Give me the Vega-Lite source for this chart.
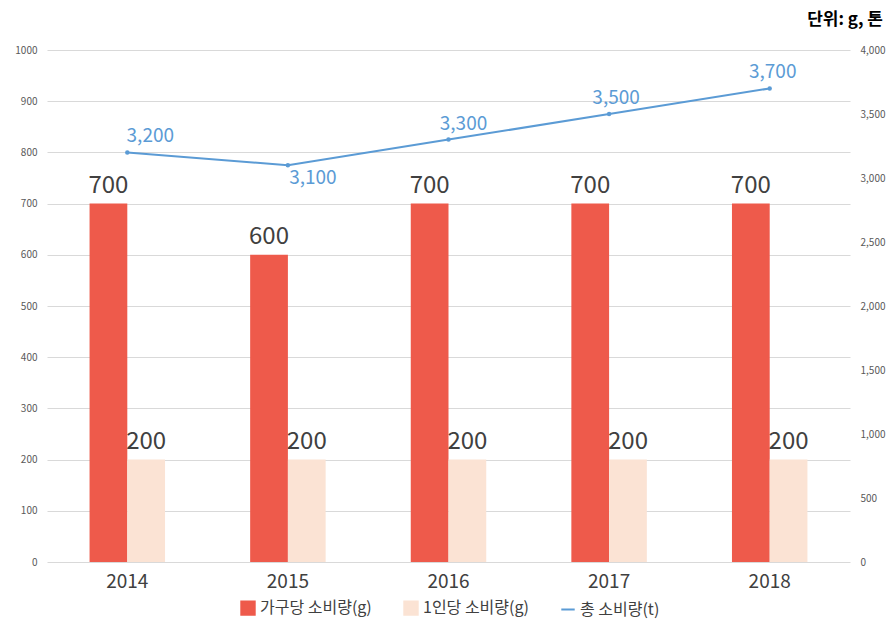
{
  "$schema": "https://vega.github.io/schema/vega-lite/v6.json",
  "width": 803,
  "height": 512,
  "autosize": "none",
  "padding": {"left": 47, "top": 50, "right": 45, "bottom": 61},
  "background": "white",
  "config": {
    "font": "Noto Sans CJK KR",
    "view": {"stroke": null}
  },
  "title": {
    "text": "단위: g, 톤",
    "anchor": "end",
    "frame": "group",
    "fontSize": 17,
    "fontWeight": "bold",
    "color": "#000000",
    "offset": 16,
    "dx": 33
  },
  "data": {
    "values": [
      {"year": "2014", "series": "가구당 소비량(g)", "value": 700},
      {"year": "2014", "series": "1인당 소비량(g)", "value": 200},
      {"year": "2014", "series": "총 소비량(t)", "value": 3200},
      {"year": "2015", "series": "가구당 소비량(g)", "value": 600},
      {"year": "2015", "series": "1인당 소비량(g)", "value": 200},
      {"year": "2015", "series": "총 소비량(t)", "value": 3100},
      {"year": "2016", "series": "가구당 소비량(g)", "value": 700},
      {"year": "2016", "series": "1인당 소비량(g)", "value": 200},
      {"year": "2016", "series": "총 소비량(t)", "value": 3300},
      {"year": "2017", "series": "가구당 소비량(g)", "value": 700},
      {"year": "2017", "series": "1인당 소비량(g)", "value": 200},
      {"year": "2017", "series": "총 소비량(t)", "value": 3500},
      {"year": "2018", "series": "가구당 소비량(g)", "value": 700},
      {"year": "2018", "series": "1인당 소비량(g)", "value": 200},
      {"year": "2018", "series": "총 소비량(t)", "value": 3700}
    ]
  },
  "encoding": {
    "x": {
      "field": "year",
      "type": "nominal",
      "scale": {"paddingInner": 0.53, "paddingOuter": 0.265},
      "axis": {
        "title": null,
        "labelAngle": 0,
        "labelFontSize": 19,
        "labelColor": "#404040",
        "labelPadding": 10,
        "ticks": false,
        "domain": false
      }
    }
  },
  "layer": [
    {
      "transform": [{"filter": "datum.series !== '총 소비량(t)'"}],
      "layer": [
        {
          "mark": {"type": "bar"},
          "encoding": {
            "xOffset": {"field": "series", "type": "nominal", "sort": ["가구당 소비량(g)", "1인당 소비량(g)"], "scale": {"paddingInner": 0, "paddingOuter": 0}},
            "y": {
              "field": "value",
              "type": "quantitative",
              "scale": {"domain": [0, 1000]},
              "axis": {
                "title": null,
                "values": [0, 100, 200, 300, 400, 500, 600, 700, 800, 900, 1000],
                "labelExpr": "'' + datum.value",
                "labelFontSize": 10,
                "labelColor": "#595959",
                "labelPadding": 10,
                "ticks": false,
                "domain": false,
                "gridColor": "#D9D9D9"
              }
            },
            "color": {
              "field": "series",
              "type": "nominal",
              "scale": {
                "domain": ["가구당 소비량(g)", "1인당 소비량(g)", "총 소비량(t)"],
                "range": ["#EE5A4B", "#FBE3D4", "#5B9BD5"]
              },
              "legend": {
                "orient": "none",
                "legendX": 193,
                "legendY": 550,
                "direction": "horizontal",
                "title": null,
                "labelFontSize": 16,
                "labelColor": "#404040",
                "symbolSize": 180,
                "columnPadding": 28,
                "encode": {
                  "symbols": {
                    "update": {
                      "shape": {"signal": "datum.value === '총 소비량(t)' ? 'stroke' : 'square'"},
                      "stroke": {"scale": "color", "field": "value"},
                      "strokeWidth": {"value": 2}
                    }
                  }
                }
              }
            }
          }
        },
        {
          "mark": {"type": "text", "baseline": "bottom", "dy": -6, "fontSize": 24, "color": "#404040"},
          "encoding": {
            "xOffset": {"field": "series", "type": "nominal", "sort": ["가구당 소비량(g)", "1인당 소비량(g)"]},
            "y": {"field": "value", "type": "quantitative"},
            "text": {"field": "value", "type": "quantitative"}
          }
        }
      ]
    },
    {
      "transform": [{"filter": "datum.series === '총 소비량(t)'"}],
      "layer": [
        {
          "mark": {"type": "line", "strokeWidth": 2, "point": {"size": 20, "filled": true}},
          "encoding": {
            "y": {
              "field": "value",
              "type": "quantitative",
              "scale": {"domain": [0, 4000]},
              "axis": {
                "orient": "right",
                "title": null,
                "values": [0, 500, 1000, 1500, 2000, 2500, 3000, 3500, 4000],
                "labelExpr": "format(datum.value, ',')",
                "labelFontSize": 10,
                "labelColor": "#595959",
                "labelPadding": 10,
                "labelAlign": "left",
                "ticks": false,
                "domain": false,
                "grid": false
              }
            },
            "color": {"field": "series", "type": "nominal"}
          }
        },
        {
          "transform": [{"filter": "datum.year === '2014'"}],
          "mark": {"type": "text", "baseline": "bottom", "dy": -6, "dx": 23, "fontSize": 19, "color": "#5B9BD5"},
          "encoding": {
            "y": {"field": "value", "type": "quantitative", "scale": {"domain": [0, 4000]}},
            "text": {"field": "value", "type": "quantitative", "format": ","}
          }
        },
        {
          "transform": [{"filter": "datum.year === '2016'"}],
          "mark": {"type": "text", "baseline": "bottom", "dy": -6, "dx": 15, "fontSize": 19, "color": "#5B9BD5"},
          "encoding": {
            "y": {"field": "value", "type": "quantitative", "scale": {"domain": [0, 4000]}},
            "text": {"field": "value", "type": "quantitative", "format": ","}
          }
        },
        {
          "transform": [{"filter": "datum.year === '2017'"}],
          "mark": {"type": "text", "baseline": "bottom", "dy": -6, "dx": 7, "fontSize": 19, "color": "#5B9BD5"},
          "encoding": {
            "y": {"field": "value", "type": "quantitative", "scale": {"domain": [0, 4000]}},
            "text": {"field": "value", "type": "quantitative", "format": ","}
          }
        },
        {
          "transform": [{"filter": "datum.year === '2018'"}],
          "mark": {"type": "text", "baseline": "bottom", "dy": -6, "dx": 3, "fontSize": 19, "color": "#5B9BD5"},
          "encoding": {
            "y": {"field": "value", "type": "quantitative", "scale": {"domain": [0, 4000]}},
            "text": {"field": "value", "type": "quantitative", "format": ","}
          }
        },
        {
          "transform": [{"filter": "datum.year === '2015'"}],
          "mark": {"type": "text", "baseline": "top", "dy": 4, "dx": 25, "fontSize": 19, "color": "#5B9BD5"},
          "encoding": {
            "y": {"field": "value", "type": "quantitative", "scale": {"domain": [0, 4000]}},
            "text": {"field": "value", "type": "quantitative", "format": ","}
          }
        }
      ]
    }
  ],
  "resolve": {"scale": {"y": "independent"}}
}
